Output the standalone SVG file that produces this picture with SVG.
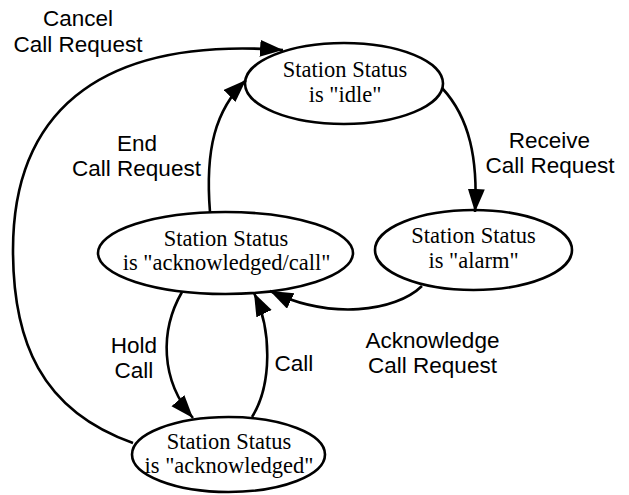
<svg xmlns="http://www.w3.org/2000/svg" width="629" height="495" viewBox="0 0 629 495">
  <defs>
    <style>
      .node ellipse { fill: #ffffff; stroke: #000000; stroke-width: 2.6; }
      .node text { font-family: "Liberation Serif", "Times New Roman", serif; font-size: 22.5px; fill: #000000; text-anchor: middle; }
      .edge { fill: none; stroke: #000000; stroke-width: 2.6; marker-end: url(#arrow); }
      .label { font-family: "Liberation Sans", Arial, sans-serif; font-size: 22.5px; fill: #000000; text-anchor: middle; }
    </style>
    <marker id="arrow" markerUnits="userSpaceOnUse" markerWidth="26" markerHeight="20" refX="23" refY="8.5" orient="auto">
      <path d="M0,0 L23,8.5 L0,17 z" fill="#000000"/>
    </marker>
  </defs>
  <rect width="629" height="495" fill="#ffffff"/>

  <g id="node-idle" class="node">
    <ellipse cx="344" cy="83.5" rx="99" ry="40.5"/>
    <text x="345" y="77">Station Status</text>
    <text x="345" y="102">is "idle"</text>
  </g>
  <g id="node-alarm" class="node">
    <ellipse cx="473.5" cy="250" rx="98.5" ry="40"/>
    <text x="473.5" y="243">Station Status</text>
    <text x="473.5" y="268">is "alarm"</text>
  </g>
  <g id="node-ackcall" class="node">
    <ellipse cx="225.5" cy="253" rx="127.5" ry="41"/>
    <text x="226" y="246">Station Status</text>
    <text x="226.5" y="270">is "acknowledged/call"</text>
  </g>
  <g id="node-ack" class="node">
    <ellipse cx="228.5" cy="454.5" rx="96.5" ry="37.5"/>
    <text x="229" y="449">Station Status</text>
    <text x="229" y="473">is "acknowledged"</text>
  </g>

  <g id="connectors">
    <path class="edge" d="M133,443 C40,410 13,340 13,250 C13,120 90,36 283,50"/>
    <path class="edge" d="M210,212 C205,150 215,110 246,80"/>
    <path class="edge" d="M442,88 C470,118 478,160 475,212"/>
    <path class="edge" d="M422,286 C395,312 330,320 270,291"/>
    <path class="edge" d="M182,292 C160,330 160,380 193,418"/>
    <path class="edge" d="M252,417 C272,385 272,330 254,293"/>
  </g>

  <g id="labels">
    <text class="label" x="78" y="26">Cancel</text>
    <text class="label" x="78" y="52">Call Request</text>
    <text class="label" x="137" y="151">End</text>
    <text class="label" x="136.5" y="176">Call Request</text>
    <text class="label" x="549.5" y="148">Receive</text>
    <text class="label" x="550" y="173">Call Request</text>
    <text class="label" x="432.5" y="348">Acknowledge</text>
    <text class="label" x="432.5" y="373">Call Request</text>
    <text class="label" x="134" y="353">Hold</text>
    <text class="label" x="134" y="378">Call</text>
    <text class="label" x="294" y="371">Call</text>
  </g>
</svg>
